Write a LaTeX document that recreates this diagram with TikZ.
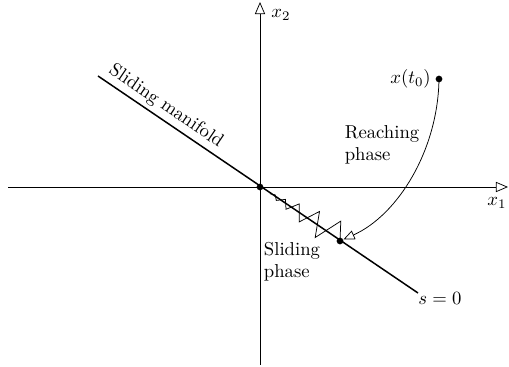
\documentclass[tikz,border=0pt]{standalone}
\usetikzlibrary{arrows.meta,calc}
\begin{document}
\begin{tikzpicture}[x=0.535pt,y=-0.535pt,
  axis/.style={line width=0.4pt,-{Triangle[open,length=6.5pt,width=5.5pt]}},
  manifold/.style={line width=0.8pt},
  dotpt/.style={circle,fill=black,inner sep=0pt,minimum size=3.6pt},
  lbl/.style={inner sep=1pt,font=\normalsize},
  chatter/.style={line width=0.4pt,line join=miter}]
\useasboundingbox (0,0) rectangle (509,367);
% axes
\coordinate (xl) at (8,187);
\coordinate (xr) at (508,187);
\coordinate (yb) at (260,365);
\coordinate (yt) at (260,2);
\draw[axis] (xl) -- (xr);
\draw[axis] (yb) -- (yt);
\node[lbl] (x1) at (497,203) {$x_1$};
\node[lbl] (x2) at (281,15) {$x_2$};
% sliding manifold
\coordinate (ms) at (98,76);
\coordinate (me) at (418,293);
\draw[manifold] (ms) -- node[pos=0.19,above,sloped,inner sep=2pt] {Sliding manifold} (me);
\node[lbl] (s0) at (440,298) {$s=0$};
% points
\node[dotpt] (O) at (260,187) {};
\node[dotpt] (S) at (340,241) {};
\node[dotpt] (X0) at (439,79) {};
\node[lbl,anchor=east] (xt0) at (433,79) {$x(t_0)$};
% reaching
\draw[line width=0.4pt,-{Triangle[open,length=6pt,width=5pt]}]
  (X0.center) .. controls (438,150) and (398,215) .. (S);
\node[lbl,align=left] (reach) at (382,145) {Reaching\\phase};
% sliding phase chattering
\draw[chatter] (269.9,193.7) -- (275.2,194.9) -- (276.3,200.4) -- (285.4,199.4)
  -- (286.0,209.3) -- (299.3,203.9) -- (299.2,221.9) -- (319.5,211.5)
  -- (315.2,237.5) -- (340.8,221.1) -- (S.center);
\node[lbl,align=left] (slide) at (292,262) {Sliding\\phase};
\end{tikzpicture}
\end{document}
